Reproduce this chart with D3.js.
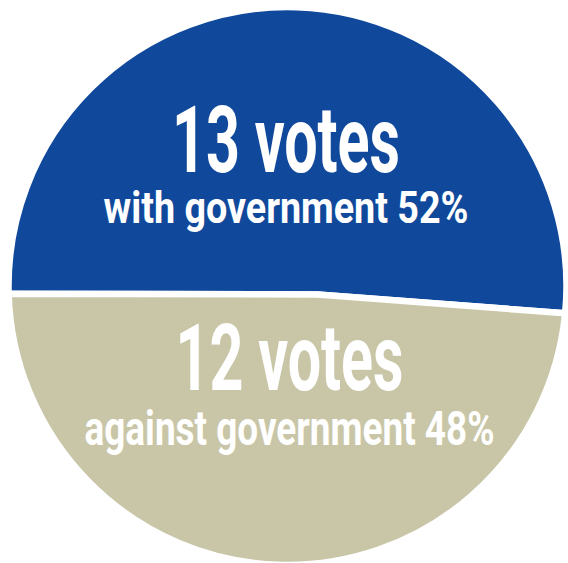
<!DOCTYPE html>
<html>
<head>
<meta charset="utf-8">
<script src="https://cdn.jsdelivr.net/npm/d3@7"></script>
<style>
  body { margin: 0; background: #fff; }
  svg text { font-family: Roboto, "Liberation Sans", sans-serif; font-weight: 700; fill: #fff; }
</style>
</head>
<body>
<div id="chart"></div>
<script>
// data
var sides = ["with government", "against government"];
var votes = [13, 12];
var colors = ["#10499c", "#c9c6a8"];

// set the dimensions of the graph
var width = 568,
    height = 563,
    cx = 287.5,
    cy = 286,
    radius = 279;   // stroke eats ~3px of it

// the slices meet a bit right of the centre in the original
var hub = {dx: 30, dy: 8.5};

var svg = d3.select("#chart")
  .append("svg")
    .attr("width", width)
    .attr("height", height);

var total = d3.sum(votes);

var pie = d3.pie()
  .sort(null)
  .startAngle(-91.6 * Math.PI / 180)
  .endAngle(268.4 * Math.PI / 180);

var arcs = pie(votes);

function slicePath(d) {
  var p = d3.path();
  p.moveTo(cx + hub.dx, cy + hub.dy);
  p.lineTo(cx + radius * Math.sin(d.startAngle), cy - radius * Math.cos(d.startAngle));
  p.arc(cx, cy, radius, d.startAngle - Math.PI / 2, d.endAngle - Math.PI / 2, false);
  p.closePath();
  return p.toString();
}

svg.append("g")
  .selectAll("path")
  .data(arcs)
  .enter().append("path")
    .attr("d", slicePath)
    .attr("fill", function(d, i) { return colors[i]; })
    .attr("stroke", "#fff")
    .attr("stroke-width", 6.5)
    .attr("stroke-linejoin", "miter");

// ----- LABELS -----
// big line / small line: baseline offsets from centre, font size, width
var labelLayout = [
  {x: 286, big: {y: -114.5, size: 93, len: 228}, small: {y: -63, size: 45, len: 365}},
  {x: 289.5, big: {y: 104, size: 92, len: 228}, small: {y: 159, size: 49, len: 410}}
];

arcs.forEach(function(d, i) {
  var L = labelLayout[i];
  var pct = Math.round(votes[i] / total * 100);
  var lines = [
    {txt: votes[i] + " votes", s: L.big},
    {txt: sides[i] + " " + pct + "%", s: L.small}
  ];
  lines.forEach(function(l) {
    svg.append("text")
      .attr("x", L.x - l.s.len / 2)
      .attr("y", cy + l.s.y)
      .attr("font-size", l.s.size)
      .attr("textLength", l.s.len)
      .attr("lengthAdjust", "spacingAndGlyphs")
      .text(l.txt);
  });
});
</script>
</body>
</html>
